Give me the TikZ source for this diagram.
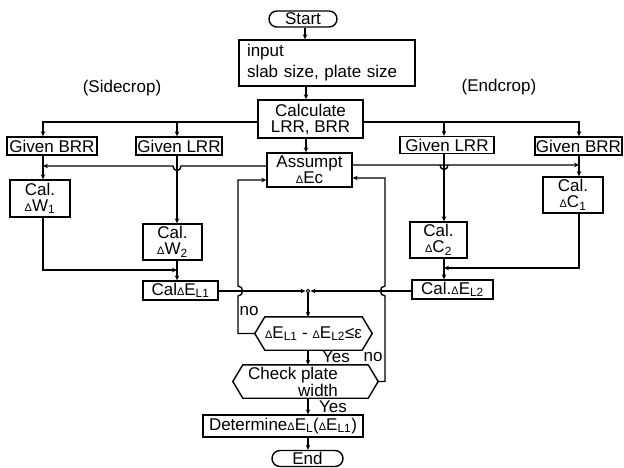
\documentclass[tikz,border=0pt]{standalone}
\usepackage{fontspec}
\setmainfont{Liberation Sans}
\usetikzlibrary{arrows.meta}
\newcommand\dt{{\fontsize{11}{11}\selectfont Δ}}
\newcommand\lab{\fontsize{17}{16}\selectfont}
\begin{document}
\begin{tikzpicture}[x=1pt,y=-1pt,
  every node/.style={font=\lab, inner sep=1pt},
  box/.style={draw, line width=1.4pt, align=center, inner sep=0.5pt},
  ln/.style={line width=1.4pt},
  arr/.style={ln, -{Stealth[length=5pt,width=4.5pt]}},
  term/.style={draw, line width=1.4pt, rounded corners=8pt, minimum height=16, inner sep=0pt}]
\useasboundingbox (0,0) rectangle (624,468);
% columns
\coordinate (tx) at (306,0);
\coordinate (ca) at (43,0);
\coordinate (cb) at (177,0);
\coordinate (cc) at (444,0);
\coordinate (cd) at (579,0);
\coordinate (fl) at (238,0);
\coordinate (fr) at (385,0);
\coordinate (mg) at (308,291);
% nodes
\node[term, minimum width=68] (start) at (303,19) {Start};
\node[box, minimum width=176, minimum height=46, align=left, text width=160, font=\fontsize{17}{21}\selectfont] (input) at (327,63) {input\\slab size, plate size};
\node[box, minimum width=105, minimum height=38] (calc) at (310.5,119) {Calculate\\LRR, BRR};
\node[box, minimum width=90, minimum height=18] (gbl) at (52,146) {Given BRR};
\node[box, minimum width=86, minimum height=18] (gll) at (179,146) {Given LRR};
\node[box, minimum width=94, minimum height=17] (glr) at (447,145) {Given LRR};
\node[box, minimum width=87, minimum height=18] (gbr) at (578.5,146) {Given BRR};
\node[box, minimum width=85, minimum height=34] (asm) at (309.5,170) {Assumpt\\\dt Ec};
\node[box, minimum width=60, minimum height=37] (w1) at (40,198.5) {Cal.\\\dt W\textsubscript{1}};
\node[box, minimum width=59, minimum height=36] (w2) at (172.5,242) {Cal.\\\dt W\textsubscript{2}};
\node[box, minimum width=60, minimum height=36] (c1) at (573,195) {Cal.\\\dt C\textsubscript{1}};
\node[box, minimum width=57, minimum height=36] (c2) at (438.5,240) {Cal.\\\dt C\textsubscript{2}};
\node[box, minimum width=75, minimum height=19] (el1) at (180.5,290.5) {Cal\dt E\textsubscript{L1}};
\node[box, minimum width=81, minimum height=19] (el2) at (452.5,289.5) {Cal.\dt E\textsubscript{L2}};
\node[minimum width=117, minimum height=33, inner sep=0pt] (dec) at (313.5,333.5) {\dt E\textsubscript{L1} - \dt E\textsubscript{L2}≤ε};
\node[minimum width=145, minimum height=33, inner sep=0pt] (check) at (305.5,381.5) {};
\node[align=right, font=\fontsize{17}{15}\selectfont] (checkt) at (293,381.5) {Check plate\\width};
\node[box, minimum width=160, minimum height=22] (det) at (283,426) {Determine\dt E\textsubscript{L}(\dt E\textsubscript{L1})};
\node[term, minimum width=71] (end) at (307.5,458.5) {End};
\node (side) at (122,88) {(Sidecrop)};
\node (endc) at (499,87) {(Endcrop)};
\node (no1) at (249,311) {no};
\node (yes1) at (336,357) {Yes};
\node (no2) at (373,357) {no};
\node (yes2) at (333,406.5) {Yes};
% hexagons
\draw[ln] (dec.west) -- ([xshift=10pt]dec.north west) -- ([xshift=-10pt]dec.north east) -- (dec.east) -- ([xshift=-10pt]dec.south east) -- ([xshift=10pt]dec.south west) -- cycle;
\draw[ln] (check.west) -- ([xshift=10pt]check.north west) -- ([xshift=-10pt]check.north east) -- (check.east) -- ([xshift=-10pt]check.south east) -- ([xshift=10pt]check.south west) -- cycle;
% trunk
\draw[arr] (start.south -| 305,0) -- (input.north -| 305,0);
\draw[arr] (input.south -| tx) -- (calc.north -| tx);
\draw[arr] (calc.south -| tx) -- (asm.north -| tx);
% calc branches
\draw[arr] (calc.west |- 0,122) -| (gbl.north -| ca);
\draw[arr] (cb |- 0,122) -- (gll.north -| cb);
\draw[arr] (calc.east |- 0,122) -| (gbr.north -| cd);
\draw[arr] (cc |- 0,122) -- (glr.north -| cc);
% given -> cal
\draw[arr] (gbl.south -| ca) -- (w1.north -| ca);
\draw[arr] (gll.south -| cb) -- (w2.north -| cb);
\draw[arr] (glr.south -| cc) -- (c2.north -| cc);
\draw[arr] (gbr.south -| cd) -- (c1.north -| cd);
% assumpt to sides
\draw[arr] (asm.west |- 0,166) -- (181,166) .. controls (181,172) and (173,172) .. (173,166) -- (ca |- 0,166);
\draw[arr] (asm.east |- 0,165) -- (448,165) .. controls (448,171) and (440,171) .. (440,165) -- (cd |- 0,165);
% joins
\draw[arr] (w1.south -| ca) |- (cb |- 0,270);
\draw[arr] (w2.south -| cb) -- (el1.north -| cb);
\draw[arr] (c1.south -| cd) |- (cc |- 0,268);
\draw[arr] (c2.south -| cc) -- (el2.north -| cc);
% merge
\draw[arr] (el1.east |- mg) -- ([xshift=-2.5pt]mg);
\draw[arr] (el2.west |- mg) -- ([xshift=2.5pt]mg);
\draw[arr] (mg) -- (dec.north -| mg);
\draw[line width=0.8pt, fill=white] (mg) circle[radius=1.8pt];
% feedback
\draw[arr] (dec.west) -- (fl |- dec.west) -- (238,296) .. controls (244,296) and (244,286) .. (238,286) -- (fl |- 0,180) -- (asm.west |- 0,180);
\draw[arr] (check.east) -- (fr |- check.east) -- (385,296) .. controls (379,296) and (379,286) .. (385,286) -- (fr |- 0,178) -- (asm.east |- 0,178);
% lower trunk
\draw[arr] (dec.south -| mg) -- (check.north -| mg);
\draw[arr] (check.south -| mg) -- (det.north -| mg);
\draw[arr] (det.south -| mg) -- (end.north -| mg);
\end{tikzpicture}
\end{document}
